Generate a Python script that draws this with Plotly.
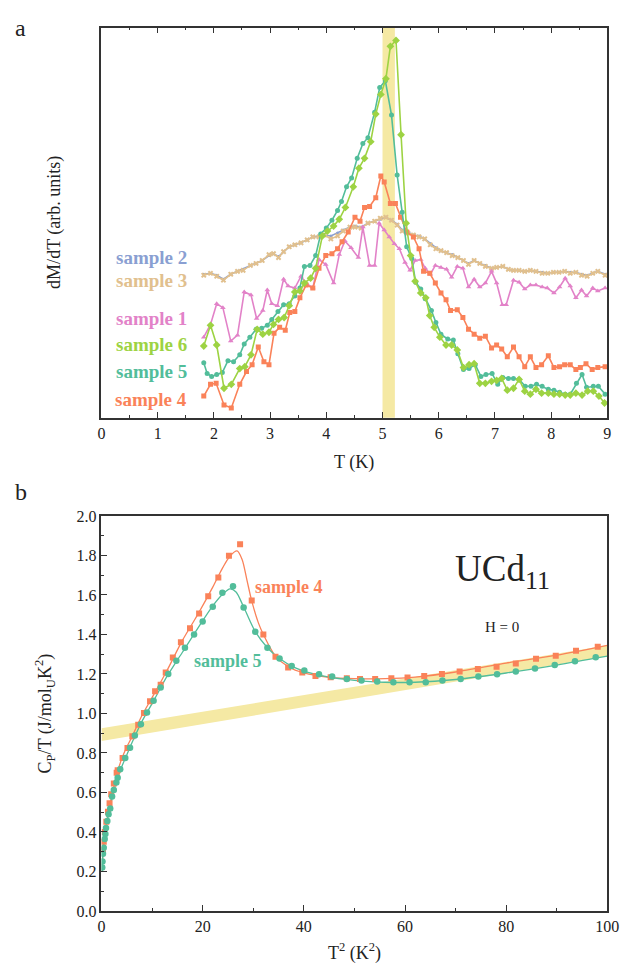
import plotly.graph_objects as go

W, H = 633, 974
FONT = "Liberation Serif"

# ---------------- panel a data (dM/dT, arbitrary units) ----------------
T_s4 = [1.82,1.94,2.04,2.18,2.31,2.46,2.58,2.68,2.79,2.89,2.98,3.07,3.17,3.27,3.35,3.44,3.53,3.64,3.76,3.87,
        3.99,4.10,4.20,4.28,4.39,4.51,4.60,4.68,4.77,4.88,4.97,5.03,5.14,5.23,5.32,5.43,5.55,5.65,5.73,5.84,
        5.94,6.04,6.13,6.21,6.33,6.43,6.53,6.63,6.73,6.83,6.94,7.03,7.12,7.22,7.33,7.43,7.53,7.63,7.73,7.83,
        7.95,8.05,8.15,8.24,8.34,8.44,8.52,8.62,8.73,8.83,8.96]
y_s4 = [13,25,26,4,1,25,38,45,63,48,45,77,83,80,98,99,113,126,123,143,
        156,158,163,170,180,195,191,205,206,215,237,231,209,209,195,180,175,163,140,138,
        128,118,111,100,101,93,81,76,72,74,62,65,61,53,63,53,43,53,42,45,
        54,42,43,45,45,40,42,46,40,42,43]

T_s5 = [1.82,1.88,1.96,2.05,2.15,2.25,2.35,2.46,2.54,2.64,2.75,2.85,2.95,3.03,3.14,3.24,3.34,3.44,3.53,3.61,
        3.71,3.81,3.90,4.00,4.10,4.20,4.27,4.36,4.45,4.55,4.65,4.74,4.86,4.95,5.05,5.16,5.26,5.35,5.43,5.52,
        5.59,5.68,5.76,5.87,5.95,6.04,6.16,6.26,6.34,6.44,6.54,6.65,6.75,6.84,6.95,7.05,7.14,7.24,7.33,7.43,
        7.54,7.64,7.74,7.84,7.95,8.05,8.15,8.25,8.34,8.45,8.55,8.63,8.75,8.84,8.96]
y_s5 = [47,36,33,35,37,49,48,55,66,73,81,82,85,91,99,106,107,115,123,145,
        146,156,178,184,192,202,211,226,235,255,270,276,302,327,334,299,238,200,165,153,
        129,122,112,100,88,76,71,70,56,40,41,45,33,35,36,25,32,31,31,30,
        23,23,25,23,20,19,17,15,15,26,35,22,23,23,15]

T_s6 = [1.82,1.94,2.05,2.18,2.31,2.46,2.55,2.66,2.77,2.87,2.98,3.06,3.15,3.25,3.34,3.44,3.53,3.61,3.72,3.81,
        3.93,4.02,4.13,4.23,4.34,4.48,4.58,4.68,4.79,4.88,4.97,5.06,5.14,5.24,5.33,5.42,5.50,5.58,5.68,5.77,
        5.84,5.92,6.02,6.13,6.23,6.33,6.44,6.54,6.63,6.73,6.83,6.94,7.03,7.12,7.22,7.33,7.43,7.53,7.63,7.73,
        7.83,7.95,8.05,8.15,8.25,8.34,8.44,8.55,8.65,8.75,8.85,8.95]
y_s6 = [64,85,65,21,25,41,43,55,81,76,78,86,91,93,105,119,120,128,133,143,
        176,181,186,193,205,226,245,255,272,300,320,336,369,375,279,189,156,130,118,113,
        95,83,73,65,65,60,42,45,46,26,26,28,29,31,19,21,30,18,15,20,
        16,16,15,15,14,14,16,14,18,18,13,6]

T_s1 = [1.82,1.94,2.05,2.16,2.30,2.42,2.54,2.66,2.76,2.87,2.95,3.03,3.13,3.24,3.32,3.44,3.55,3.64,3.76,3.87,
        3.99,4.13,4.23,4.33,4.44,4.57,4.65,4.77,4.86,4.94,5.03,5.12,5.21,5.30,5.40,5.49,5.58,5.68,5.76,5.85,
        5.94,6.04,6.14,6.23,6.33,6.43,6.53,6.63,6.73,6.83,6.94,7.03,7.13,7.20,7.33,7.43,7.53,7.63,7.73,7.84,
        7.93,8.05,8.15,8.25,8.34,8.44,8.54,8.63,8.74,8.83,8.96]
y_s1 = [73,86,107,103,69,75,119,116,92,100,121,107,105,132,125,123,135,128,123,152,
        147,128,157,171,164,154,185,146,146,189,182,175,168,163,149,141,151,152,143,137,
        146,144,142,134,145,143,124,132,124,128,140,128,106,106,131,129,122,126,126,124,
        123,118,124,133,125,113,121,115,123,120,123]

T_s3 = [1.82,1.94,2.05,2.17,2.30,2.42,2.52,2.65,2.75,2.86,2.98,3.06,3.15,3.24,3.34,3.44,3.55,3.66,3.76,3.87,
        3.97,4.08,4.20,4.30,4.42,4.51,4.62,4.74,4.86,4.96,5.06,5.16,5.26,5.35,5.45,5.55,5.65,5.75,5.85,5.95,
        6.04,6.14,6.24,6.34,6.44,6.53,6.63,6.73,6.83,6.94,7.03,7.14,7.24,7.33,7.43,7.53,7.63,7.73,7.84,7.94,
        8.04,8.14,8.24,8.34,8.44,8.54,8.64,8.74,8.83,8.96]
y_s3 = [136,138,135,131,137,140,141,146,148,151,157,158,154,160,165,167,169,172,175,175,
        177,173,176,181,185,185,184,189,191,194,195,192,187,181,179,177,175,173,167,163,
        161,159,156,154,151,147,151,148,145,143,144,145,142,141,141,140,141,140,138,138,
        139,139,140,138,139,136,135,138,140,136]
T_s2 = T_s3
y_s2 = [137,138,136,132,137,140,142,146,148,151,156,158,155,160,165,167,169,172,175,176,
        177,176,179,182,185,186,185,189,191,193,195,192,188,182,180,177,176,173,168,164,
        161,159,157,154,151,148,151,148,146,143,144,145,142,141,141,140,141,140,139,138,
        139,139,140,139,139,137,136,138,140,137]

Tc_band = [5.0, 5.22]

# ---------------- panel b data (Cp/T vs T^2) ----------------
x_c4 = [0.3,0.45,0.64,0.96,1.28,1.6,1.93,2.44,3.0,3.2,4.17,5.14,6.1,7.26,8.4,9.6,10.6,11.7,12.7,14.1,
        15.7,17.5,19.3,21.1,23.1,25.2,27.4,29.7,32.0,34.4,36.9,39.7,42.3,45.3,48.5,51.1,54.1,57.3,60.5,63.8,
        67.3,70.8,74.4,78.1,81.9,85.9,89.8,93.8,98.1]
v_c4 = [0.31,0.35,0.40,0.452,0.502,0.546,0.591,0.646,0.70,0.713,0.774,0.825,0.885,0.943,1.003,1.062,1.112,1.145,1.208,1.283,
        1.361,1.431,1.506,1.594,1.689,1.798,1.857,1.572,1.40,1.287,1.233,1.207,1.19,1.183,1.178,1.175,1.175,1.178,1.182,1.19,
        1.20,1.212,1.225,1.237,1.253,1.277,1.292,1.317,1.338]
x_c5 = [0.15,0.2,0.3,0.45,0.64,0.77,0.9,1.16,1.4,1.73,2.1,2.44,2.95,3.2,3.7,4.7,5.65,6.6,7.8,9.0,
        10.3,11.7,13.2,14.8,16.5,18.3,20.0,22.0,23.9,26.0,28.1,30.4,32.8,35.2,37.6,40.1,43.0,45.6,48.5,51.4,
        54.5,57.7,60.9,64.1,67.4,71.0,74.5,78.2,81.9,85.7,89.6,93.6,97.7]
v_c5 = [0.22,0.25,0.29,0.32,0.364,0.39,0.42,0.455,0.49,0.519,0.58,0.613,0.65,0.675,0.718,0.774,0.826,0.888,0.946,1.005,
        1.064,1.132,1.20,1.267,1.333,1.40,1.466,1.54,1.611,1.644,1.536,1.414,1.333,1.278,1.24,1.217,1.198,1.187,1.175,1.167,
        1.162,1.158,1.158,1.158,1.167,1.175,1.187,1.198,1.212,1.228,1.245,1.265,1.285]

fit_x4 = [0.12,0.3,0.6,1.0,1.5,2.0,3.0,4.0,5.0,6.0,8.0,10,13,16,19,22,24,25.5,26.8,27.8,
          28.8,29.7,31,32,34.4,37,40,45,50,56,62,70,80,90,100]
fit_v4 = [0.2,0.31,0.39,0.45,0.52,0.58,0.69,0.77,0.83,0.88,0.99,1.08,1.22,1.37,1.5,1.64,1.74,1.80,1.823,1.78,
          1.67,1.57,1.46,1.40,1.29,1.235,1.205,1.183,1.176,1.176,1.184,1.21,1.255,1.295,1.345]
fit_x5 = [0.12,0.3,0.6,1.0,1.5,2.0,3.0,4.0,5.0,6.0,8.0,10,13,16,19,22,24,25.4,26.6,28,
          30.4,32.8,35.2,38,42,46,50,56,62,70,80,90,100]
fit_v5 = [0.2,0.29,0.36,0.44,0.50,0.56,0.66,0.73,0.79,0.85,0.96,1.05,1.19,1.31,1.43,1.545,1.605,1.631,1.615,1.545,
          1.414,1.333,1.278,1.235,1.20,1.18,1.168,1.158,1.158,1.172,1.205,1.245,1.29]

band_x = [0, 100]
band_lo = [0.86, 1.29]
band_hi = [0.925, 1.345]

C4 = "#fa8259"
C5 = "#52bd9a"
C6 = "#9dd343"
C1 = "#e282c8"
C3 = "#e1c08e"
C2 = "#8a9fd2"
YEL = "#f5e9a4"

fig = go.Figure()

# --- panel a traces ---
def top_trace(x, y, color, symbol, size=5):
    return go.Scatter(x=x, y=y, mode="lines+markers", xaxis="x", yaxis="y",
                      line=dict(color=color, width=1.6),
                      marker=dict(color=color, symbol=symbol, size=size, line=dict(width=0)),
                      showlegend=False, hoverinfo="skip")

fig.add_trace(top_trace(T_s2, y_s2, C2, "circle", 3))
fig.add_trace(top_trace(T_s3, y_s3, C3, "x", 5))
fig.add_trace(top_trace(T_s1, y_s1, C1, "triangle-up", 5))
fig.add_trace(top_trace(T_s4, y_s4, C4, "square", 5))
fig.add_trace(top_trace(T_s5, y_s5, C5, "circle", 5))
fig.add_trace(top_trace(T_s6, y_s6, C6, "diamond", 6))

# --- panel b traces ---
fig.add_trace(go.Scatter(x=band_x, y=band_lo, mode="lines", xaxis="x2", yaxis="y2",
                         line=dict(width=0, color=YEL), showlegend=False, hoverinfo="skip"))
fig.add_trace(go.Scatter(x=band_x, y=band_hi, mode="lines", xaxis="x2", yaxis="y2",
                         line=dict(width=0, color=YEL), fill="tonexty", fillcolor=YEL,
                         showlegend=False, hoverinfo="skip"))
fig.add_trace(go.Scatter(x=fit_x4, y=fit_v4, mode="lines", xaxis="x2", yaxis="y2",
                         line=dict(color=C4, width=1.3, shape="spline", smoothing=0.8),
                         showlegend=False, hoverinfo="skip"))
fig.add_trace(go.Scatter(x=fit_x5, y=fit_v5, mode="lines", xaxis="x2", yaxis="y2",
                         line=dict(color=C5, width=1.3, shape="spline", smoothing=0.8),
                         showlegend=False, hoverinfo="skip"))
fig.add_trace(go.Scatter(x=x_c4, y=v_c4, mode="markers", xaxis="x2", yaxis="y2",
                         marker=dict(color=C4, symbol="square", size=6),
                         showlegend=False, hoverinfo="skip"))
fig.add_trace(go.Scatter(x=x_c5, y=v_c5, mode="markers", xaxis="x2", yaxis="y2",
                         marker=dict(color=C5, symbol="circle", size=6.5),
                         showlegend=False, hoverinfo="skip"))

def px(xp): return xp / W
def py(yp): return 1 - yp / H

AX = "#333333"
tickfont = dict(family=FONT, size=16, color="#222")

fig.update_layout(
    width=W, height=H, margin=dict(l=0, r=0, t=0, b=0),
    paper_bgcolor="white", plot_bgcolor="white",
    font=dict(family=FONT, color="#222"),
    xaxis=dict(domain=[px(100), px(619)], anchor="y", range=[0, 9], dtick=1,
               showgrid=False, zeroline=False, showline=True, linecolor=AX, linewidth=1.5,
               mirror="allticks", ticks="inside", ticklen=6, tickcolor=AX, tickwidth=1.3,
               minor=dict(dtick=0.5, ticks="inside", ticklen=3, tickcolor=AX, tickwidth=1.2),
               tickfont=tickfont),
    yaxis=dict(domain=[py(417), py(20)], anchor="x", range=[-9, 388],
               showgrid=False, zeroline=False, showline=True, linecolor=AX, linewidth=1.5,
               mirror=True, ticks="", showticklabels=False),
    xaxis2=dict(domain=[px(100), px(619)], anchor="y2", range=[0, 100], dtick=20,
                showgrid=False, zeroline=False, showline=True, linecolor=AX, linewidth=1.5,
                mirror=True, ticks="inside", ticklen=6, tickcolor=AX, tickwidth=1.3,
                minor=dict(dtick=10, ticks="inside", ticklen=3, tickcolor=AX, tickwidth=1.2),
                tickfont=tickfont),
    yaxis2=dict(domain=[py(919), py(517)], anchor="x2", range=[0, 2.0], dtick=0.2,
                tickformat=".1f",
                showgrid=False, zeroline=False, showline=True, linecolor=AX, linewidth=1.5,
                mirror=True, ticks="inside", ticklen=6, tickcolor=AX, tickwidth=1.3,
                minor=dict(dtick=0.1, ticks="inside", ticklen=3, tickcolor=AX, tickwidth=1.2),
                tickfont=tickfont),
    shapes=[dict(type="rect", xref="x", yref="paper", x0=Tc_band[0], x1=Tc_band[1],
                 y0=py(417), y1=py(20), fillcolor=YEL, line=dict(width=0), layer="below")],
)

ann = []
def A(text, xp, yp, size, color="#222", xanchor="center", yanchor="middle", angle=0, bold=False):
    ann.append(dict(text=text, x=px(xp), y=py(yp), xref="paper", yref="paper",
                    xanchor=xanchor, yanchor=yanchor, showarrow=False, textangle=angle,
                    font=dict(family=FONT, size=size, color=color,
                              weight="bold" if bold else "normal")))

A("a", 17, 20, 24)
A("b", 17, 493, 24)
A("T (K)", 359.5, 463, 18)
A("dM/dT (arb. units)", 52, 218, 18, angle=-90)
A("T<sup>2</sup> (K<sup>2</sup>)", 359.5, 961, 18)
A("C<sub>P</sub>/T (J/mol<sub>U</sub>K<sup>2</sup>)", 42, 718, 18, angle=-90)

A("sample 2", 190, 254, 19, C2, xanchor="right", bold=True)
A("sample 3", 190, 277, 19, C3, xanchor="right", bold=True)
A("sample 1", 190, 316, 19, C1, xanchor="right", bold=True)
A("sample 6", 190, 342, 19, C6, xanchor="right", bold=True)
A("sample 5", 190, 370, 19, C5, xanchor="right", bold=True)
A("sample 4", 190, 398, 19, C4, xanchor="right", bold=True)

A("sample 4", 292, 589, 18, C4, bold=True)
A("sample 5", 230, 665, 18, C5, bold=True)
A("UCd<sub>11</sub>", 511, 574, 37)
A("H = 0", 511, 630, 15)

fig.update_layout(annotations=ann)
fig.write_html("out.html",
               post_script="document.body.style.margin='0';document.body.style.overflow='hidden';")
